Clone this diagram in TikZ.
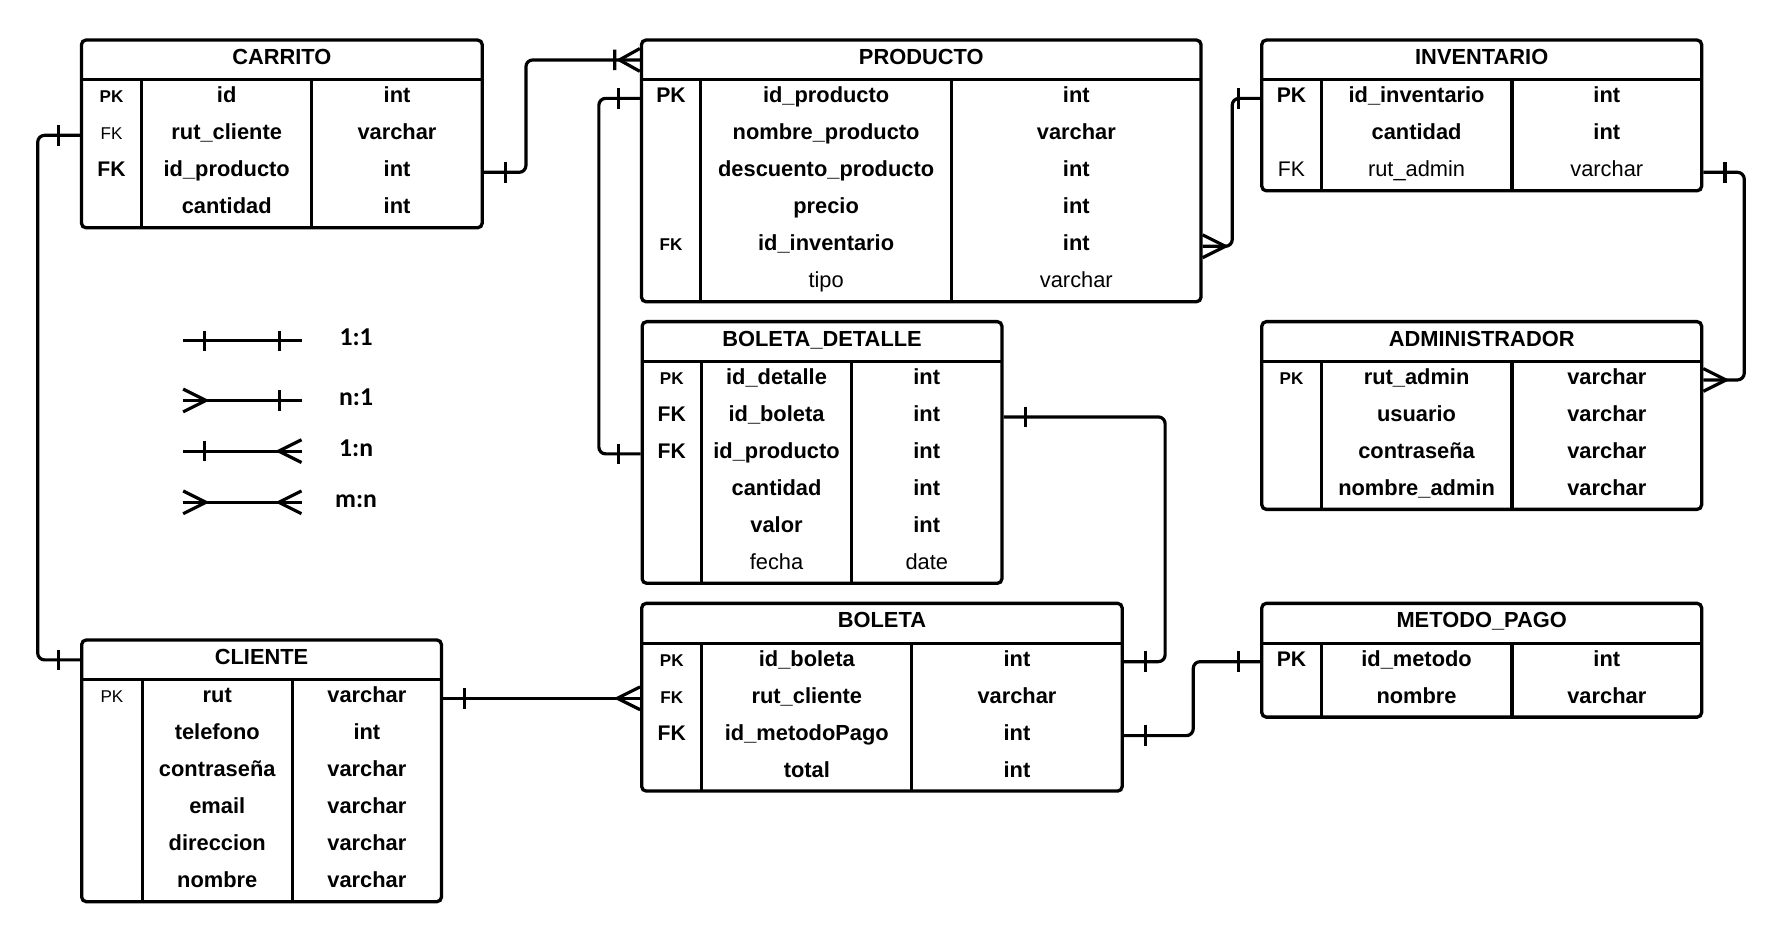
\documentclass[tikz,border=0pt]{standalone}
\usepackage{fontspec}
\setmainfont{Liberation Sans}
\newfontfamily\legendfont{Carlito}
\usetikzlibrary{fit}

\tikzset{
  tbl/.style={draw, line width=1.45pt, rounded corners=2pt, inner sep=0pt},
  divider/.style={line width=1.4pt},
  rel/.style={line width=1.4pt, rounded corners=3pt},
  cardinal/.style={line width=1.4pt, sharp corners},
  ttl/.style={anchor=base, font=\bfseries\fontsize{9.6}{11}\selectfont},
  fb/.style={anchor=base, font=\bfseries\fontsize{9.6}{11}\selectfont},
  fr/.style={anchor=base, font=\fontsize{9.6}{11}\selectfont},
  kb/.style={anchor=base, font=\bfseries\fontsize{7.5}{9}\selectfont},
  kr/.style={anchor=base, font=\fontsize{7.5}{9}\selectfont},
  kB/.style={anchor=base, font=\bfseries\fontsize{9.3}{11}\selectfont},
  kR/.style={anchor=base, font=\fontsize{9.3}{11}\selectfont},
  lgd/.style={anchor=base, font=\legendfont\bfseries\fontsize{11.3}{13}\selectfont},
  one/.pic={\draw[cardinal] (19,-9) -- (19,9);},
  many/.pic={\draw[cardinal] (0,-10) -- (20,0) -- (0,10);},
  onemany/.pic={\draw[cardinal] (22,-9) -- (22,9) (0,-10) -- (18,0) -- (0,10);},
}

% table frame: name, left, top, right, divider 1, divider 2, rows, title
\newcommand\ertable[8]{%
  \def\tabL{#2}\def\tabT{#3}\def\tabR{#4}\def\tabA{#5}\def\tabB{#6}%
  \pgfmathsetmacro\tabH{#3+35}%
  \pgfmathsetmacro\tabE{#3+35+32.5*#7}%
  \node[tbl, fit={(#2,#3) (#4,\tabE)}] (#1) {};
  \draw[divider] (#2,\tabH) -- (#4,\tabH) (#5,\tabH) -- (#5,\tabE) (#6,\tabH) -- (#6,\tabE);
  \coordinate (#1-hc) at ({(#2+#4)/2},#3+17.5);
  \node[ttl] (#1-h) at ({(#2+#4)/2},#3+21.5) {#8};
}
% table row: table, row, key style, key, text style, field, type
\newcommand\erow[7]{%
  \pgfmathsetmacro\rowy{\tabT+35+32.5*(#2-0.5)}%
  \coordinate (#1-r#2) at (\tabL,\rowy);
  \node[#3] (#1-k#2) at ({(\tabL+\tabA)/2},\rowy+4) {#4};
  \node[#5] (#1-f#2) at ({(\tabA+\tabB)/2},\rowy+4) {#6};
  \node[#5] (#1-t#2) at ({(\tabB+\tabR)/2},\rowy+4) {#7};
}

\begin{document}
\begin{tikzpicture}[x=0.5pt,y=-0.5pt]
\useasboundingbox[fill=white] (0,0) rectangle (1568,828);

% tables
\ertable{carrito}{71.6}{35.2}{423.8}{124.4}{274.1}{4}{CARRITO}
\foreach \i/\ks/\kk/\fs/\fld/\ty in {1/kb/PK/fb/id/int, 2/kr/FK/fb/rut\_cliente/varchar,
  3/kB/FK/fb/id\_producto/int, 4/kb//fb/cantidad/int}
  {\erow{carrito}{\i}{\ks}{\kk}{\fs}{\fld}{\ty}}

\ertable{producto}{563.8}{35.2}{1055.6}{615.8}{836.4}{6}{PRODUCTO}
\foreach \i/\ks/\kk/\fs/\fld/\ty in {1/kB/PK/fb/id\_producto/int, 2/kb//fb/nombre\_producto/varchar,
  3/kb//fb/descuento\_producto/int, 4/kb//fb/precio/int, 5/kb/FK/fb/id\_inventario/int, 6/kb//fr/tipo/varchar}
  {\erow{producto}{\i}{\ks}{\kk}{\fs}{\fld}{\ty}}

\ertable{inventario}{1109}{35.2}{1495.6}{1161.2}{1328.9}{3}{INVENTARIO}
\foreach \i/\ks/\kk/\fs/\fld/\ty in {1/kB/PK/fb/id\_inventario/int, 2/kb//fb/cantidad/int,
  3/kR/FK/fr/rut\_admin/varchar}
  {\erow{inventario}{\i}{\ks}{\kk}{\fs}{\fld}{\ty}}

\ertable{detalle}{564.4}{282.7}{880.6}{616.5}{748.5}{6}{BOLETA\_DETALLE}
\foreach \i/\ks/\kk/\fs/\fld/\ty in {1/kb/PK/fb/id\_detalle/int, 2/kB/FK/fb/id\_boleta/int,
  3/kB/FK/fb/id\_producto/int, 4/kb//fb/cantidad/int, 5/kb//fb/valor/int, 6/kb//fr/fecha/date}
  {\erow{detalle}{\i}{\ks}{\kk}{\fs}{\fld}{\ty}}

\ertable{admin}{1109}{282.7}{1495.6}{1161.2}{1328.9}{4}{ADMINISTRADOR}
\foreach \i/\ks/\kk/\fs/\fld/\ty in {1/kb/PK/fb/rut\_admin/varchar, 2/kb//fb/usuario/varchar,
  3/kb//fb/contraseña/varchar, 4/kb//fb/nombre\_admin/varchar}
  {\erow{admin}{\i}{\ks}{\kk}{\fs}{\fld}{\ty}}

\ertable{boleta}{564}{530.3}{986.3}{616.9}{801.4}{4}{BOLETA}
\foreach \i/\ks/\kk/\fs/\fld/\ty in {1/kb/PK/fb/id\_boleta/int, 2/kb/FK/fb/rut\_cliente/varchar,
  3/kB/FK/fb/id\_metodoPago/int, 4/kb//fb/total/int}
  {\erow{boleta}{\i}{\ks}{\kk}{\fs}{\fld}{\ty}}

\ertable{metodo}{1109}{530.3}{1495.6}{1161.2}{1328.9}{2}{METODO\_PAGO}
\foreach \i/\ks/\kk/\fs/\fld/\ty in {1/kB/PK/fb/id\_metodo/int, 2/kb//fb/nombre/varchar}
  {\erow{metodo}{\i}{\ks}{\kk}{\fs}{\fld}{\ty}}

\ertable{cliente}{71.8}{562.5}{388}{125}{256.9}{6}{CLIENTE}
\foreach \i/\ks/\kk/\fs/\fld/\ty in {1/kr/PK/fb/rut/varchar, 2/kb//fb/telefono/int,
  3/kb//fb/contraseña/varchar, 4/kb//fb/email/varchar, 5/kb//fb/direccion/varchar, 6/kb//fb/nombre/varchar}
  {\erow{cliente}{\i}{\ks}{\kk}{\fs}{\fld}{\ty}}

% relations
\draw[rel] (carrito-r3 -| carrito.east) -- ++(37,0) |- (producto-hc -| producto.west);
\pic at (carrito-r3 -| carrito.east) {one};
\pic[xscale=-1] at (producto-hc -| producto.west) {onemany};

\draw[rel] (producto-r1 -| producto.west) -- ++(-36,0) |- (detalle-r3 -| detalle.west);
\pic[xscale=-1] at (producto-r1 -| producto.west) {one};
\pic[xscale=-1] at (detalle-r3 -| detalle.west) {one};

\draw[rel] (producto-r5 -| producto.east) -- ++(26,0) |- (inventario-r1 -| inventario.west);
\pic at (producto-r5 -| producto.east) {many};
\pic[xscale=-1] at (inventario-r1 -| inventario.west) {one};

\draw[rel] (inventario-r3 -| inventario.east) -- ++(36,0) |- (admin-r1 -| admin.east);
\pic at (inventario-r3 -| inventario.east) {one};
\pic at (admin-r1 -| admin.east) {many};

\draw[rel] (detalle-r2 -| detalle.east) -- ++(142,0) |- (boleta-r1 -| boleta.east);
\pic at (detalle-r2 -| detalle.east) {one};
\pic at (boleta-r1 -| boleta.east) {one};

\draw[rel] (boleta-r3 -| boleta.east) -- ++(61,0) |- (metodo-r1 -| metodo.west);
\pic at (boleta-r3 -| boleta.east) {one};
\pic[xscale=-1] at (metodo-r1 -| metodo.west) {one};

\draw[rel] (cliente-r1 -| cliente.east) -- (cliente-r1 -| boleta.west);
\pic at (cliente-r1 -| cliente.east) {one};
\pic[xscale=-1] at (cliente-r1 -| boleta.west) {many};

\draw[rel] (carrito-r2 -| carrito.west) -- ++(-37,0) |- (cliente-hc -| cliente.west);
\pic[xscale=-1] at (carrito-r2 -| carrito.west) {one};
\pic[xscale=-1] at (cliente-hc -| cliente.west) {one};

% legend
\coordinate (l1a) at (161,299.5); \coordinate (l1b) at (265,299.5);
\coordinate (l2a) at (161,352);   \coordinate (l2b) at (265,352);
\coordinate (l3a) at (161,396.5); \coordinate (l3b) at (265,396.5);
\coordinate (l4a) at (161,441.5); \coordinate (l4b) at (265,441.5);
\draw[rel] (l1a) -- (l1b) (l2a) -- (l2b) (l3a) -- (l3b) (l4a) -- (l4b);
\pic at (l1a) {one}; \pic[xscale=-1] at (l1b) {one};
\pic at (l2a) {many}; \pic[xscale=-1] at (l2b) {one};
\pic at (l3a) {one}; \pic[xscale=-1] at (l3b) {many};
\pic at (l4a) {many}; \pic[xscale=-1] at (l4b) {many};
\node[lgd] (l1) at (313,304) {1:1};
\node[lgd] (l2) at (313,356.5) {n:1};
\node[lgd] (l3) at (313,401) {1:n};
\node[lgd] (l4) at (313,446) {m:n};
\end{tikzpicture}
\end{document}
